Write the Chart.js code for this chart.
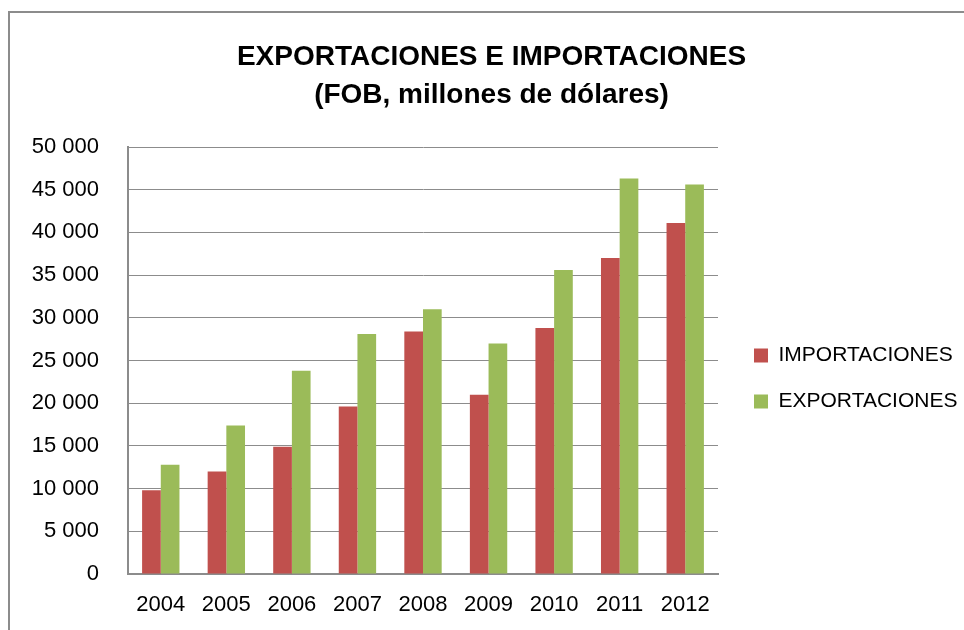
<!DOCTYPE html>
<html lang="es">
<head>
    <meta charset="UTF-8">
    <title>Exportaciones e importaciones</title>
    <script src="https://cdn.jsdelivr.net/npm/chart.js"></script>
    <style>
        body { margin: 0; overflow: hidden; background: #fff; }
        #frame {
            position: absolute; left: 8px; top: 11px;
            width: 1000px; height: 700px;
            border-left: 2px solid #8c8c8c;
            border-top: 2px solid #8c8c8c;
        }
        #chart { position: absolute; left: 0; top: 0; }
    </style>
</head>
<body>
    <div id="frame"></div>
    <canvas id="chart" width="964" height="630"></canvas>
    <script>
        // valores (millones de dolares FOB)
        const anios = ['2004', '2005', '2006', '2007', '2008', '2009', '2010', '2011', '2012'];
        const importaciones = [9800, 12000, 14900, 19600, 28400, 21000, 28800, 37000, 41100];
        const exportaciones = [12800, 17400, 23800, 28100, 31000, 27000, 35600, 46300, 45600];
        const titulo = ['EXPORTACIONES E IMPORTACIONES', '(FOB, millones de dólares)'];

        const fuente = "'Liberation Sans', Arial, sans-serif";
        const gris = '#8c8c8c';

        function miles(v) {
            return String(v).replace(/\B(?=(\d{3})+(?!\d))/g, ' ');
        }

        // mueve la leyenda a donde la pone Excel
        const moverLeyenda = {
            id: 'moverLeyenda',
            afterLayout(chart) {
                const l = chart.legend;
                l.left += 11; l.right += 11;
                l.top += 18; l.bottom += 18;
            }
        };

        new Chart(document.getElementById('chart'), {
            type: 'bar',
            data: {
                labels: anios,
                datasets: [{
                    label: 'IMPORTACIONES',
                    data: importaciones,
                    backgroundColor: '#C0504D',
                    categoryPercentage: 0.57,
                    barPercentage: 1.0
                }, {
                    label: 'EXPORTACIONES',
                    data: exportaciones,
                    backgroundColor: '#9BBB59',
                    categoryPercentage: 0.57,
                    barPercentage: 1.0
                }]
            },
            options: {
                responsive: false,
                animation: false,
                layout: { padding: { left: 30, right: 11, top: 0, bottom: 0 } },
                plugins: {
                    title: {
                        display: true,
                        text: titulo,
                        color: '#000',
                        font: { family: fuente, size: 28, weight: 'bold', lineHeight: 1.375 },
                        padding: { top: 38, bottom: 32 }
                    },
                    legend: {
                        position: 'right',
                        fullSize: false,
                        maxWidth: 235,
                        labels: {
                            boxWidth: 14,
                            boxHeight: 14,
                            padding: 25,
                            color: '#000',
                            font: { family: fuente, size: 21 }
                        }
                    },
                    tooltip: { enabled: false }
                },
                scales: {
                    x: {
                        grid: { display: false, drawTicks: false },
                        border: { color: gris, width: 2 },
                        ticks: {
                            color: '#000',
                            padding: 18,
                            font: { family: fuente, size: 22 }
                        },
                        afterFit(scale) { scale.height = 56; }
                    },
                    y: {
                        min: 0,
                        max: 50000,
                        grid: { color: gris, lineWidth: 1, drawTicks: false },
                        border: { color: gris, width: 2 },
                        ticks: {
                            stepSize: 5000,
                            color: '#000',
                            padding: 29,
                            font: { family: fuente, size: 22 },
                            callback: v => miles(v)
                        },
                        afterFit(scale) { scale.width = 98; }
                    }
                }
            },
            plugins: [moverLeyenda]
        });
    </script>
</body>
</html>
